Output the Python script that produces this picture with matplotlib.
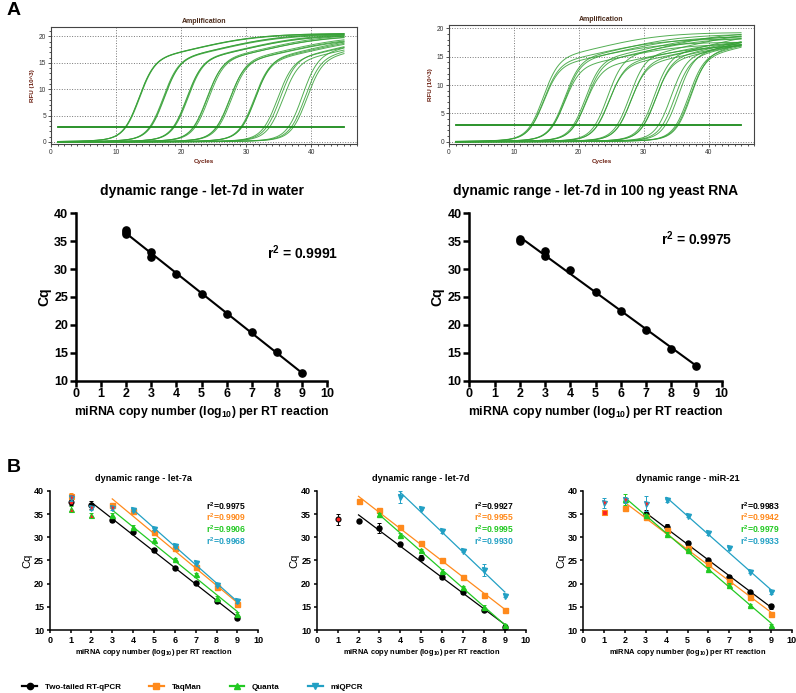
import numpy as np
import matplotlib
matplotlib.use('Agg')
import matplotlib.pyplot as plt
from matplotlib.lines import Line2D
from matplotlib.ticker import MultipleLocator

plt.rcParams['font.family'] = ['Liberation Sans', 'DejaVu Sans']
plt.rcParams['mathtext.default'] = 'regular'

nan = np.nan

# ---- panel A: amplification curves (Cq at threshold, plateau of each trace)
amp_water_cq = [11.5, 11.5, 11.6, 15.2, 15.3, 15.4, 18.8, 18.9, 19.0, 21.9, 22.0, 22.2,
                25.4, 25.5, 25.7, 29.2, 29.3, 29.4, 32.8, 33.2, 33.6, 36.6, 37.0, 37.3]
amp_water_plateau = [20.6, 20.5, 20.6, 20.5, 20.4, 20.6, 20.3, 20.5, 20.4, 20.2, 20.5, 20.3,
                     19.8, 20.2, 20.0, 20.2, 20.0, 20.5, 20.3, 20.6, 20.0, 21.5, 20.8, 20.5]
amp_yeast_cq = [12.5, 12.6, 12.6, 15.8, 15.8, 15.9, 19.0, 19.1, 19.2, 22.4, 22.6, 22.7,
                25.8, 26.0, 26.1, 29.6, 29.8, 29.9, 32.2, 32.8, 33.3, 34.9, 35.1, 35.3]
amp_yeast_plateau = [19.3, 17.6, 18.2, 19.0, 17.3, 18.6, 18.8, 17.1, 18.4, 19.4, 17.5, 18.0,
                     19.5, 17.8, 18.4, 19.8, 18.6, 19.2, 19.6, 19.4, 20.0, 19.8, 19.6, 20.2]
threshold = 2.9

# ---- panel A: dynamic range scatter
water_x = [2, 2, 2, 3, 3, 4, 5, 6, 7, 8, 9]
water_cq = [36.3, 36.6, 37.0, 33.0, 32.2, 29.1, 25.5, 21.9, 18.65, 15.1, 11.45]
yeast_x = [2, 2, 3, 3, 4, 5, 6, 7, 8, 9]
yeast_cq = [35.1, 35.3, 33.2, 32.4, 29.8, 25.95, 22.55, 19.1, 15.75, 12.55]

# ---- panel B: Cq per log10 copy number 1..9 (nan = no value)
copies = np.arange(1, 10)

let7a_two = [37.6, 37.0, 33.8, 31.2, 27.3, 23.4, 20.2, 16.2, 12.5]
let7a_two_err = [0.6, 0.8, 0.4, 0.3, 0.4, 0.3, 0.2, 0.3, 0.2]
let7a_taq = [38.9, nan, 37.0, 35.6, 31.1, 27.6, 23.5, 19.2, 15.6]
let7a_taq_err = [0.6, 0, 0.5, 0.4, 0.4, 0.4, 0.3, 0.3, 0.3]
let7a_qua = [36.2, 34.8, 34.9, 32.3, 29.5, 25.3, 22.0, 17.0, 13.5]
let7a_qua_err = [0.6, 0.5, 0.3, 0.3, 0.3, 0.3, 0.3, 0.3, 0.3]
let7a_miq = [38.4, 36.3, 36.3, 36.0, 31.8, 28.2, 24.5, 19.7, 16.2]
let7a_miq_err = [0.6, 0.5, 0.5, 0.4, 0.3, 0.3, 0.3, 0.3, 0.3]
let7a_excluded = {'two': [1], 'taq': [1], 'qua': [1, 2], 'miq': [1, 2, 3]}
let7a_r2 = ['0.9975', '0.9909', '0.9906', '0.9968']

let7d_two = [33.9, 33.5, 32.0, 28.5, 25.6, 21.4, 18.2, 14.3, 10.6]
let7d_two_err = [1.2, 0.2, 1.0, 0.3, 0.5, 0.4, 0.5, 0.3, 0.4]
let7d_taq = [nan, 37.8, 35.9, 32.3, 28.8, 25.1, 21.5, 17.5, 14.3]
let7d_taq_err = [0, 0.2, 0.2, 0.3, 0.2, 0.2, 0.2, 0.2, 0.2]
let7d_qua = [nan, nan, 35.0, 30.6, 27.2, 22.8, 19.2, 15.0, 11.1]
let7d_qua_err = [0, 0, 0.3, 0.3, 0.3, 0.3, 0.3, 0.3, 0.3]
let7d_miq = [nan, nan, nan, 38.8, 36.1, 31.3, 27.1, 23.0, 17.4]
let7d_miq_err = [0, 0, 0, 1.3, 0.3, 0.3, 0.3, 1.3, 0.3]
let7d_excluded = {'two': [1], 'taq': [], 'qua': [], 'miq': []}
let7d_r2 = ['0.9927', '0.9955', '0.9995', '0.9930']

mir21_two = [nan, nan, 35.0, 32.2, 28.8, 25.0, 21.5, 18.2, 15.1]
mir21_two_err = [0, 0, 0.8, 0.6, 0.5, 0.3, 0.3, 0.3, 0.6]
mir21_taq = [35.5, 36.4, 34.4, 31.5, 27.8, 24.2, 20.6, 17.1, 13.4]
mir21_taq_err = [0.4, 0.4, 0.3, 0.3, 0.3, 0.3, 0.3, 0.3, 0.3]
mir21_qua = [nan, 38.2, 34.8, 30.8, 27.2, 23.2, 19.8, 15.4, 11.0]
mir21_qua_err = [0, 1.2, 0.3, 0.3, 0.3, 0.3, 0.3, 0.3, 0.3]
mir21_miq = [37.4, 38.0, 37.3, 38.0, 34.7, 30.9, 27.6, 22.6, 18.1]
mir21_miq_err = [1.0, 0.6, 1.7, 0.3, 0.3, 0.3, 0.3, 0.3, 0.3]
mir21_excluded = {'two': [], 'taq': [1], 'qua': [], 'miq': [1, 2, 3]}
mir21_r2 = ['0.9983', '0.9942', '0.9979', '0.9933']

method_names = ['Two-tailed RT-qPCR', 'TaqMan', 'Quanta', 'miQPCR']
method_keys = ['two', 'taq', 'qua', 'miq']
colors = ['#000000', '#ff8a1c', '#22c922', '#22a0c4']
r2_colors = ['#000000', '#ff8a1c', '#22c922', '#22a0c4']
markers = ['o', 's', '^', 'v']
red = '#ff2222'


def logistic(z):
    return 1.0 / (1.0 + np.exp(-z))


def amp_plot(ax, cqs, plateaus, ymax):
    x = np.linspace(1, 45, 300)
    for cq, p in zip(cqs, plateaus):
        # two-phase sigmoid: fast exponential phase + slow plateau approach
        f = p / 20.5 * (15 * logistic((x - cq - 2.0) / 1.2) + 5.5 * logistic((x - cq - 11) / 5))
        ax.plot(x, f, color='#35a035', lw=0.7, alpha=0.85)
    ax.plot([1, 45], [threshold, threshold], color='#1a8a1a', lw=1.3)
    ax.set_xlim(0, 47)
    ax.set_ylim(-0.4, ymax)
    ax.xaxis.set_major_locator(MultipleLocator(10))
    ax.xaxis.set_minor_locator(MultipleLocator(1))
    ax.yaxis.set_major_locator(MultipleLocator(5))
    ax.yaxis.set_minor_locator(MultipleLocator(1))
    ax.grid(True, which='major', ls=':', color='#777777', lw=0.7)
    ax.tick_params(which='both', direction='out', labelsize=4.8, colors='#333333',
                   length=2, width=0.6, pad=1.5)
    ax.tick_params(which='minor', length=1.2)
    for s in ax.spines.values():
        s.set_color('#444444')
        s.set_linewidth(0.8)
    ax.set_title('Amplification', fontsize=5, fontweight='bold', color='#4a2a1a', pad=3)
    ax.set_ylabel('RFU (10^3)', fontsize=4.5, fontweight='bold', color='#6b1e10', labelpad=3)
    ax.set_xlabel('Cycles', fontsize=4.5, fontweight='bold', color='#6b1e10', labelpad=2)


def prism_axes(ax, lw, fs, tick_len, bold_ticks=True):
    ax.set_xlim(0, 10)
    ax.set_ylim(10, 40)
    ax.set_xticks(range(0, 11))
    ax.set_yticks(range(10, 41, 5))
    for side in ['top', 'right']:
        ax.spines[side].set_visible(False)
    for side in ['left', 'bottom']:
        ax.spines[side].set_linewidth(lw)
    ax.tick_params(direction='out', length=tick_len, width=lw, labelsize=fs, pad=1.5)
    if bold_ticks:
        for lab in ax.get_xticklabels() + ax.get_yticklabels():
            lab.set_fontweight('bold')


def scatter_plot(ax, xs, ys, title, r2_text, r2_pos):
    xs = np.array(xs, float)
    ys = np.array(ys, float)
    slope, icpt = np.polyfit(xs, ys, 1)
    xx = np.array([xs.min(), xs.max()])
    ax.plot(xx, slope * xx + icpt, color='black', lw=1.5)
    ax.plot(xs, ys, 'o', color='black', ms=5.2, clip_on=False)
    prism_axes(ax, 1.8, 9, 4)
    ax.set_title(title, fontsize=10, fontweight='bold', pad=13)
    ax.set_ylabel('Cq', fontsize=10, fontweight='bold', labelpad=2)
    ax.set_xlabel('miRNA copy number (log$_{10}$) per RT reaction', fontsize=8.8,
                  fontweight='bold', labelpad=3)
    ax.text(r2_pos[0], r2_pos[1], 'r$^{2}$ = ' + r2_text, fontsize=10, fontweight='bold', va='center')


def method_panel(ax, title, series, errs, excluded, r2_vals, title_dx=0):
    for k, key in enumerate(method_keys):
        ys = np.array(series[k], float)
        er = np.array(errs[k], float)
        ok = ~np.isnan(ys)
        ex = ok & np.isin(copies, excluded[key])
        inc = ok & ~ex
        c = colors[k]
        ax.errorbar(copies[ok], ys[ok], yerr=er[ok], fmt='none', ecolor=c, elinewidth=0.7,
                    capsize=1.6, capthick=0.7, clip_on=False)
        slope, icpt = np.polyfit(copies[inc], ys[inc], 1)
        xx = np.array([copies[inc].min(), 9])
        ax.plot(xx, slope * xx + icpt, color=c, lw=0.9)
        ax.plot(copies[inc], ys[inc], markers[k], color=c, ms=3.6, ls='none', clip_on=False)
        ax.plot(copies[ex], ys[ex], markers[k], mfc=red, mec=c, mew=0.8, ms=3.6, ls='none',
                clip_on=False)
    prism_axes(ax, 1.1, 6.5, 2.5)
    ax.set_title(title, fontsize=6.6, fontweight='bold', pad=7, x=0.5 + title_dx)
    ax.set_ylabel('Cq', fontsize=8, labelpad=1)
    ax.set_xlabel('miRNA copy number (log$_{10}$) per RT reaction', fontsize=5.4,
                  fontweight='bold', labelpad=2)
    for k, val in enumerate(r2_vals):
        ax.text(7.5, 36.8 - 2.55 * k, 'r$^{2}$=' + val, color=r2_colors[k], fontsize=6.2,
                fontweight='bold', va='center')


fig = plt.figure(figsize=(7.96, 6.93), dpi=100)

ax1 = fig.add_axes([0.0641, 0.7922, 0.3844, 0.1689])
amp_plot(ax1, amp_water_cq, amp_water_plateau, 21.8)
ax2 = fig.add_axes([0.5641, 0.7922, 0.3832, 0.1718])
amp_plot(ax2, amp_yeast_cq, amp_yeast_plateau, 20.6)

ax3 = fig.add_axes([0.0951, 0.4507, 0.3161, 0.2416])
scatter_plot(ax3, water_x, water_cq, 'dynamic range - let-7d in water', '0.9991', (7.6, 33.0))
ax4 = fig.add_axes([0.5896, 0.4507, 0.3171, 0.2416])
scatter_plot(ax4, yeast_x, yeast_cq, 'dynamic range - let-7d in 100 ng yeast RNA', '0.9975', (7.58, 35.4))

ax5 = fig.add_axes([0.0624, 0.0909, 0.2621, 0.2006])
method_panel(ax5, 'dynamic range - let-7a',
             [let7a_two, let7a_taq, let7a_qua, let7a_miq],
             [let7a_two_err, let7a_taq_err, let7a_qua_err, let7a_miq_err],
             let7a_excluded, let7a_r2, title_dx=-0.05)
ax6 = fig.add_axes([0.3979, 0.0909, 0.2626, 0.2006])
method_panel(ax6, 'dynamic range - let-7d',
             [let7d_two, let7d_taq, let7d_qua, let7d_miq],
             [let7d_two_err, let7d_taq_err, let7d_qua_err, let7d_miq_err],
             let7d_excluded, let7d_r2)
ax7 = fig.add_axes([0.7328, 0.0909, 0.2618, 0.2006])
method_panel(ax7, 'dynamic range - miR-21',
             [mir21_two, mir21_taq, mir21_qua, mir21_miq],
             [mir21_two_err, mir21_taq_err, mir21_qua_err, mir21_miq_err],
             mir21_excluded, mir21_r2)

handles = [Line2D([], [], color=colors[k], marker=markers[k], ms=4.5, lw=1.6)
           for k in range(4)]
fig.legend(handles, method_names, loc='center left', bbox_to_anchor=(0.028, 0.0087),
           ncol=4, frameon=False, prop={'weight': 'bold', 'size': 5.8},
           handlelength=1.8, handletextpad=1.0, columnspacing=3.5, borderpad=0,
           borderaxespad=0)

fig.text(0.008, 0.997, 'A', fontsize=14, fontweight='bold', va='top')
fig.text(0.008, 0.338, 'B', fontsize=14, fontweight='bold', va='top')

fig.savefig('out.png', dpi=100)
